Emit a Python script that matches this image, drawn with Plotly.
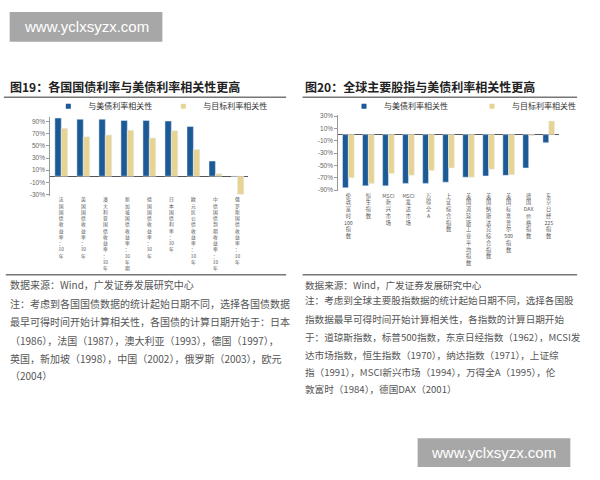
import plotly.graph_objects as go
import re

# ---------------- data ----------------
left_cats = ["法国国债收益率：10年", "英国国债收益率：10年", "澳大利亚国债收益率：10年",
             "新加坡国债收益率：10年期", "德国国债收益率：10年", "日本国债利率：10年",
             "欧元区公债收益率：10年", "中债国债到期收益率：10年", "俄罗斯国债收益率：10年"]
left_us = [96, 94, 94, 92, 92, 91, 82, 25, 0]
left_target = [79, 65, 68, 76, 63, 75, 44, 4, -30]

right_cats = ["伦敦富时100指数", "恒生指数", "MSCI新兴市场", "MSCI发达市场", "万得全A",
              "上证综合指数", "美国道琼斯工业平均指数", "美国纳斯达克综合指数",
              "美国标准普尔500指数", "德国DAX价格指数", "东京日经225指数"]
right_us = [-86, -83, -83, -79, -79, -77, -69, -67, -66, -54, -13]
right_target = [-70, -79, -63, -66, -58, -54, -69, -56, -65, -2, 22]

left_ticks = [90, 70, 50, 30, 10, -10, -30]
right_ticks = [30, 10, -10, -30, -50, -70, -90]

series_names = ["与美债利率相关性", "与目标利率相关性"]

title_left = "图19：各国国债利率与美债利率相关性更高"
title_right = "图20：全球主要股指与美债利率相关性更高"
source_text = "数据来源：Wind，广发证券发展研究中心"
notes_left = ["注：考虑到各国国债数据的统计起始日期不同，选择各国债数据",
              "最早可得时间开始计算相关性，各国债的计算日期开始于：日本",
              "（1986），法国（1987），澳大利亚（1993），德国（1997），",
              "英国，新加坡（1998），中国（2002），俄罗斯（2003），欧元",
              "（2004）"]
notes_right = ["注：考虑到全球主要股指数据的统计起始日期不同，选择各国股",
               "指数据最早可得时间开始计算相关性，各指数的计算日期开始",
               "于：道琼斯指数，标普500指数，东京日经指数（1962），MCSI发",
               "达市场指数，恒生指数（1970），纳达指数（1971），上证综",
               "指（1991），MSCI新兴市场（1994），万得全A（1995），伦",
               "敦富时（1984），德国DAX（2001）"]
watermark = "www.yclxsyzx.com"

BLUE = "#1c5a96"
GOLD = "#e7d493"
W, H = 600, 480
CJK = "Noto Sans CJK SC"


def vertical(s):
    toks = re.findall(r"[A-Za-z0-9]+|.", s)
    return "<br>".join(toks)


def px(x):
    return x / W


def py(y):
    return 1 - y / H


fig = go.Figure()

# bars
fig.add_trace(go.Bar(x=[vertical(c) for c in left_cats], y=left_us, marker_color=BLUE,
                     xaxis="x", yaxis="y", showlegend=False, name=series_names[0]))
fig.add_trace(go.Bar(x=[vertical(c) for c in left_cats], y=left_target, marker_color=GOLD,
                     xaxis="x", yaxis="y", showlegend=False, name=series_names[1]))
fig.add_trace(go.Bar(x=[vertical(c) for c in right_cats], y=right_us, marker_color=BLUE,
                     xaxis="x2", yaxis="y2", showlegend=False, name=series_names[0]))
fig.add_trace(go.Bar(x=[vertical(c) for c in right_cats], y=right_target, marker_color=GOLD,
                     xaxis="x2", yaxis="y2", showlegend=False, name=series_names[1]))

# legend proxies (small square markers)
for i, (nm, col) in enumerate(zip(series_names, [BLUE, GOLD])):
    fig.add_trace(go.Scatter(x=[None], y=[None], mode="markers", name=nm,
                             marker=dict(symbol="square", size=5, color=col),
                             xaxis="x", yaxis="y", legend="legend"))
    fig.add_trace(go.Scatter(x=[None], y=[None], mode="markers", name=nm,
                             marker=dict(symbol="square", size=5, color=col),
                             xaxis="x2", yaxis="y2", legend="legend2"))

tickfont = dict(size=6.5, color="#666", family="Liberation Sans")
catfont_l = dict(size=4.8, color="#555", family=CJK)
catfont_r = dict(size=5.2, color="#555", family=CJK)

axis_common = dict(showgrid=False, zeroline=False, showline=False, ticks="")
fig.update_layout(
    width=W, height=H,
    margin=dict(l=0, r=0, t=0, b=0),
    paper_bgcolor="white", plot_bgcolor="white",
    font=dict(family=CJK, color="#333"),
    barmode="group", bargap=0.42, bargroupgap=0,
    xaxis=dict(domain=[px(52), px(257)], anchor="y", tickfont=catfont_l, tickangle=0,
               **axis_common),
    yaxis=dict(domain=[py(195.2), py(115.8)], anchor="x", range=[-32, 98],
               tickvals=left_ticks, ticktext=[f"{v}%" for v in left_ticks],
               tickfont=tickfont, showgrid=False, showline=True, linecolor="#999",
               linewidth=1, ticks="outside", ticklen=3, tickcolor="#999",
               zeroline=True, zerolinecolor="#555", zerolinewidth=1),
    xaxis2=dict(domain=[px(350), px(578)], anchor="y2", tickfont=catfont_r, tickangle=0,
                **axis_common),
    yaxis2=dict(domain=[py(191), py(113.8)], anchor="x2", range=[-92, 32],
                tickvals=right_ticks, ticktext=[f"{v}%" for v in right_ticks],
                tickfont=tickfont, showgrid=False, showline=True, linecolor="#999",
                linewidth=1, ticks="outside", ticklen=3, tickcolor="#999",
                zeroline=True, zerolinecolor="#555", zerolinewidth=1),
    legend=dict(orientation="h", x=px(50), y=py(105), xanchor="left", yanchor="middle",
                entrywidth=70, entrywidthmode="pixels", bgcolor="rgba(0,0,0,0)",
                font=dict(size=8, color="#333", family=CJK), itemwidth=30,
                tracegroupgap=0),
    legend2=dict(orientation="h", x=px(356), y=py(105), xanchor="left", yanchor="middle",
                 entrywidth=83, entrywidthmode="pixels", bgcolor="rgba(0,0,0,0)",
                 font=dict(size=8, color="#333", family=CJK), itemwidth=30,
                 tracegroupgap=0),
)

shapes = []
for (x0, x1, y) in [(4, 296, 96), (313, 597, 96), (6, 296, 275), (313, 597, 275)]:
    shapes.append(dict(type="line", xref="paper", yref="paper", x0=px(x0), x1=px(x1),
                       y0=py(y), y1=py(y), line=dict(color="#777", width=1.5)))
# watermark boxes
for (x0, y0, x1, y1) in [(10, 10, 168, 40), (432, 440, 590, 469)]:
    shapes.append(dict(type="rect", xref="paper", yref="paper", x0=px(x0), x1=px(x1),
                       y0=py(y1), y1=py(y0), fillcolor="#a7a7a7", line=dict(width=0)))
fig.update_layout(shapes=shapes)

ann = []
ann.append(dict(text="<b>" + title_left + "</b>", x=px(8), y=py(85), xref="paper", yref="paper",
                xanchor="left", yanchor="middle", showarrow=False,
                font=dict(size=12, color="#222", family=CJK)))
ann.append(dict(text="<b>" + title_right + "</b>", x=px(313), y=py(85), xref="paper",
                yref="paper", xanchor="left", yanchor="middle", showarrow=False,
                font=dict(size=12, color="#222", family=CJK)))
notefont = dict(size=10, color="#555", family=CJK)
notefont_r = dict(size=9.6, color="#555", family=CJK)
for txt, y in zip([source_text] + notes_left, [285, 304, 322, 341, 359, 377]):
    ann.append(dict(text=txt, x=px(8), y=py(y), xref="paper", yref="paper", xanchor="left",
                    yanchor="middle", showarrow=False, font=notefont))
for txt, y in zip([source_text] + notes_right, [285, 301, 320, 338, 356, 373, 390]):
    ann.append(dict(text=txt, x=px(313), y=py(y), xref="paper", yref="paper",
                    xanchor="left", yanchor="middle", showarrow=False, font=notefont_r))
for (cx, cy) in [(89, 25), (511, 454.5)]:
    ann.append(dict(text=watermark, x=px(cx), y=py(cy), xref="paper", yref="paper",
                    xanchor="center", yanchor="middle", showarrow=False,
                    font=dict(size=15, color="white", family="Liberation Sans")))
fig.update_layout(annotations=ann)

fig.write_html("out.html")
